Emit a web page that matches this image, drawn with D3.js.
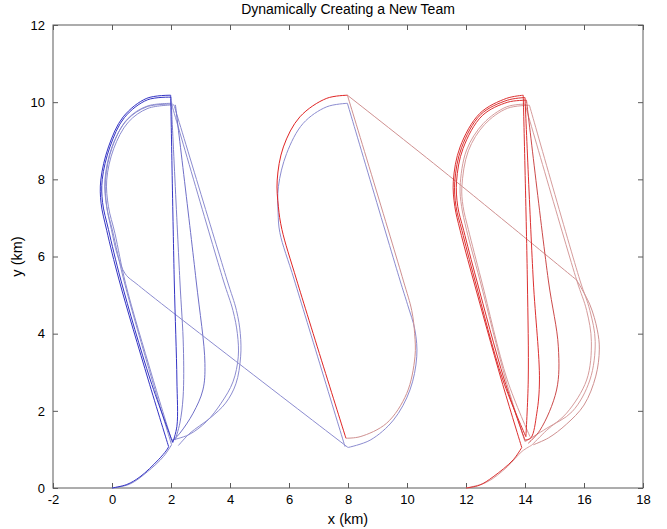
<!DOCTYPE html>
<html><head><meta charset="utf-8">
<script src="https://cdn.jsdelivr.net/npm/d3@7"></script>
<style>body{margin:0;background:#fff;font-family:Arial,"Liberation Sans",sans-serif}</style>
</head><body><svg id="c" width="667" height="529"></svg>
<script>
// ---- data (km); third value 1 marks a sharp corner (waypoint) ----
const xTicks = [-2,0,2,4,6,8,10,12,14,16,18];
const yTicks = [0,2,4,6,8,10,12];
const titleText = "Dynamically Creating a New Team";
const xLabel = "x (km)";
const yLabel = "y (km)";

const blueDark = [
 [0,0],[0.5,0.09],[0.95,0.29],[1.57,0.73],[1.85,0.98],[1.92,1.07,1],
 [1.23,2.8],[0.24,5.39],[-0.18,6.68],[-0.37,7.38],[-0.38,7.98],[-0.12,8.84],[0.38,9.62],[1.18,10.1],[1.99,10.18,1],
 [2.11,5.39],[2.2,2.8],[2.2,1.6],[2.06,1.18,1],
 [1.3,2.8],[0.3,5.39],[-0.12,6.7],[-0.32,7.4],[-0.33,8.0],[-0.07,8.84],[0.42,9.6],[1.2,10.06],[2.0,10.13]
];
const blueLight = [
 [0,0],[0.6,0.1],[1.2,0.42],[1.75,0.82],[2.02,1.12,1],
 [1.36,2.8],[0.4,5.39],[0.02,6.66],[-0.18,7.29],[-0.24,7.98],[0.0,8.84],[0.5,9.53],[1.18,9.88],[2.02,9.95,1],
 [3.77,5.39],[4.1,4.6],[4.25,4.0],[4.28,3.4],[4.1,2.75],[3.7,2.2],[3.2,1.72],[2.6,1.38],[2.02,1.24,1],
 [1.36,2.9],[0.46,5.3],[0.1,6.6],[-0.12,7.29],[-0.18,7.98],[0.06,8.8],[0.55,9.48],[1.22,9.84],[2.1,9.93,1],
 [3.9,5.39],[4.22,4.6],[4.35,4.0],[4.36,3.4],[4.2,2.7],[3.85,2.2],[3.32,1.81],[2.64,1.42],[2.25,1.1]
];
const blueReturn = [
 [2.15,9.93,1],[2.85,5.39],[3.15,3.23],[3.08,2.54],[2.75,1.94],[2.3,1.42],[2.02,1.2]
];
const blueReturn2 = [
 [2.0,10.13,1],[2.3,5.39],[2.42,3.66],[2.41,2.36],[2.3,1.68],[2.14,1.24]
];
const blueTransfer = [
 [2.05,9.97,1],[1.2,9.9],[0.52,9.56],[0.02,8.86],[-0.22,8.0],[-0.18,7.3],[-0.02,6.7],[0.18,6.05],[0.45,5.55],[0.9,5.25],[8.0,1.05,1],
 [8.75,1.24],[9.54,1.76],[10.1,2.54],[10.33,3.4],[10.27,4.09],[10.02,4.75],[9.76,5.39],[7.98,9.97,1],
 [7.28,9.88],[6.48,9.45],[5.92,8.67],[5.64,7.81],[5.63,7.15],[5.69,6.62],[6.18,5.39],[7.9,1.07]
];
const redMidBright = [
 [7.98,10.18,1],[7.28,10.1],[6.37,9.62],[5.81,8.84],[5.6,7.98],[5.64,7.29],[5.76,6.7],[6.26,5.39],[7.93,1.29]
];
const redMidPink = [
 [7.93,1.29,1],[8.41,1.33],[9.31,1.68],[9.99,2.45],[10.27,3.4],[10.26,4.0],[10.16,4.6],[9.87,5.39],[7.98,10.18,1],
 [11.12,8.28],[15.75,5.39,1],[16.2,4.75],[16.45,4.1],[16.52,3.6],[16.4,2.9],[16.0,2.15],[15.4,1.65],[14.8,1.3],[14.28,1.12]
];
const redBright = [
 [12.0,0],[12.45,0.07],[12.92,0.29],[13.6,0.73],[13.89,1.05,1],
 [13.2,2.8],[12.25,5.39],[11.8,6.68],[11.62,7.3],[11.57,7.95],[11.8,8.84],[12.47,9.71],[13.38,10.1],[13.94,10.18,1],
 [14.08,5.39],[14.11,2.8],[14.03,1.33,1],
 [13.25,2.8],[12.3,5.39],[11.86,6.68],[11.66,7.3],[11.62,7.95],[11.85,8.82],[12.5,9.68],[13.4,10.05],[14.0,10.12,1],
 [14.28,5.39],[14.49,2.8],[14.4,1.94],[14.2,1.3],[14.0,1.24,1],
 [13.3,2.8],[12.36,5.39],[11.92,6.68],[11.72,7.3],[11.68,7.95],[11.9,8.8],[12.55,9.65],[13.42,10.0],[14.05,10.05]
];
const redReturn = [
 [14.05,10.05,1],[14.79,5.39],[15.13,3.66],[15.07,2.54],[14.51,1.5],[14.11,1.16]
];
const redPink = [
 [12.0,0],[12.7,0.15],[13.4,0.55],[13.9,0.95],[14.23,1.11,1],
 [14.74,1.5],[15.41,1.94],[16.09,2.8],[16.25,3.8],[16.09,4.6],[15.75,5.39],[14.0,9.95,1],
 [13.38,9.88],[12.59,9.45],[12.02,8.76],[11.8,7.81],[11.85,7.3],[12.02,6.68],[12.47,5.39],[13.35,2.8],[14.0,1.2,1],
 [14.74,1.55],[15.6,1.98],[16.2,2.8],[16.38,3.8],[16.2,4.6],[15.86,5.39],[14.15,9.92,1],
 [13.4,9.84],[12.63,9.42],[12.08,8.74],[11.86,7.81],[11.9,7.3],[12.08,6.7],[12.52,5.39],[13.4,2.8],[14.17,1.33]
];

const series = [
 {pts: blueLight, color: "#8c8cd0"},
 {pts: blueReturn, color: "#7070c8"},
 {pts: blueReturn2, color: "#8080cc"},
 {pts: blueTransfer, color: "#8c8cd0"},
 {pts: blueDark, color: "#3434c4"},
 {pts: redPink, color: "#d69c9c"},
 {pts: redMidPink, color: "#cf9090"},
 {pts: redReturn, color: "#cc4a4a"},
 {pts: redBright, color: "#dc3030"},
 {pts: redMidBright, color: "#e02424"}
];

// ---- layout ----
const W = 667, H = 529;
const m = {l: 53, r: 643, t: 25, b: 488};
const svg = d3.select("#c");
const x = d3.scaleLinear().domain([-2,18]).range([m.l, m.r]);
const y = d3.scaleLinear().domain([0,12]).range([m.b, m.t]);

svg.append("rect").attr("width",W).attr("height",H).attr("fill","#fff");

const font = "Arial, 'Liberation Sans', sans-serif";
const axisColor = "#5a5a5a";
function styleAxis(g, labels){
  g.select(".domain").remove();
  g.selectAll(".tick line").attr("stroke", axisColor);
  g.selectAll(".tick text").attr("fill","#000").style("font-size","13px").style("font-family",font);
  if(!labels) g.selectAll(".tick text").remove();
}
const fmt = d => String(d);
svg.append("g").attr("transform",`translate(0,${m.b})`)
  .call(d3.axisBottom(x).tickValues(xTicks).tickSize(-5).tickPadding(7).tickFormat(fmt))
  .call(g=>styleAxis(g,true));
svg.append("g").attr("transform",`translate(0,${m.t})`)
  .call(d3.axisTop(x).tickValues(xTicks).tickSize(-5))
  .call(g=>styleAxis(g,false));
svg.append("g").attr("transform",`translate(${m.l},0)`)
  .call(d3.axisLeft(y).tickValues(yTicks).tickSize(-5).tickPadding(8).tickFormat(fmt))
  .call(g=>styleAxis(g,true));
svg.append("g").attr("transform",`translate(${m.r},0)`)
  .call(d3.axisRight(y).tickValues(yTicks).tickSize(-5))
  .call(g=>styleAxis(g,false));

svg.append("rect").attr("x",m.l).attr("y",m.t).attr("width",m.r-m.l).attr("height",m.b-m.t)
  .attr("fill","none").attr("stroke",axisColor).attr("stroke-width",1);

// ---- trajectories ----
const line = d3.line().x(d=>x(d[0])).y(d=>y(d[1])).curve(d3.curveCatmullRom.alpha(0.5));
function pathD(pts){
  const segs=[]; let cur=[pts[0]];
  for(let i=1;i<pts.length;i++){
    cur.push(pts[i]);
    if(pts[i][2]===1 && i<pts.length-1){ segs.push(cur); cur=[pts[i]]; }
  }
  segs.push(cur);
  return segs.map(s=>line(s)).join("");
}
const plot = svg.append("g");
series.forEach(s=>{
  plot.append("path").attr("d", pathD(s.pts)).attr("fill","none")
    .attr("stroke", s.color).attr("stroke-width",1).attr("stroke-linejoin","round");
});

// ---- text ----
svg.append("text").attr("x",(m.l+m.r)/2).attr("y",14).attr("text-anchor","middle")
  .style("font-size","14px").style("font-family",font).text(titleText);
svg.append("text").attr("x",(m.l+m.r)/2).attr("y",524).attr("text-anchor","middle")
  .style("font-size","14.5px").style("font-family",font).text(xLabel);
svg.append("text").attr("transform",`translate(22,${(m.t+m.b)/2}) rotate(-90)`).attr("text-anchor","middle")
  .style("font-size","14.5px").style("font-family",font).text(yLabel);
</script>
</body></html>
